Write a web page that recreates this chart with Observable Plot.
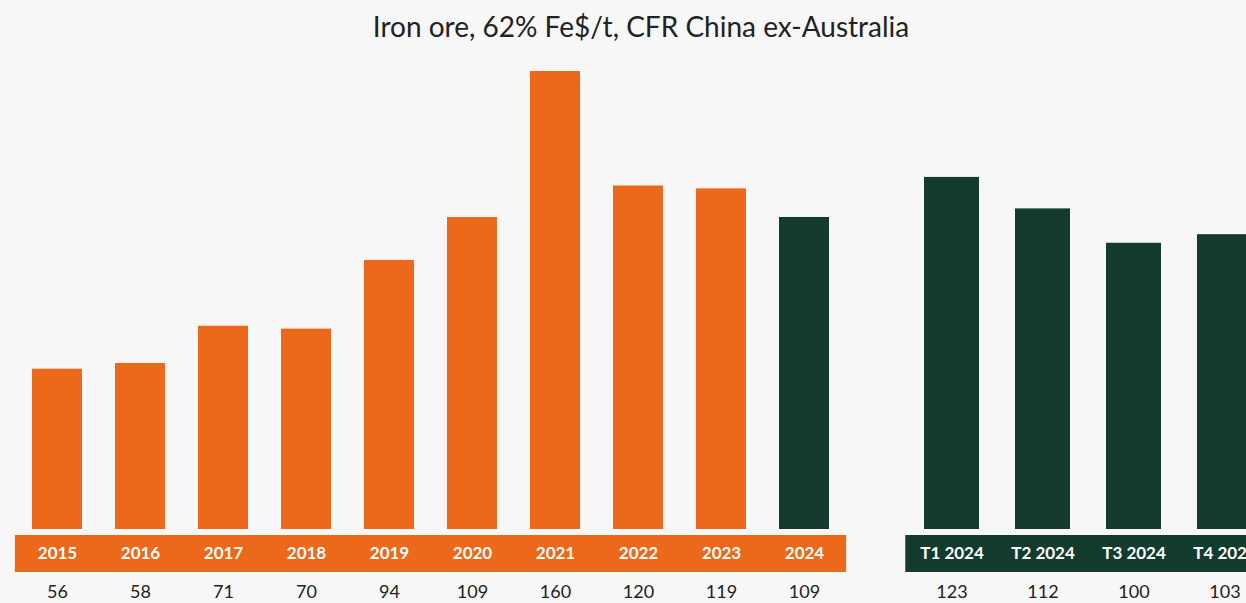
<!DOCTYPE html>
<html><head><meta charset="utf-8">
<script src="https://cdn.jsdelivr.net/npm/d3@7"></script>
<script src="https://cdn.jsdelivr.net/npm/@observablehq/plot@0.6"></script>
<style>
html,body{margin:0;padding:0;background:#f7f7f7;overflow:hidden;}
#title{width:1282px;height:55px;line-height:52px;text-align:center;font-family:Lato,sans-serif;font-size:28px;color:#222;}
#charts{position:relative;width:1246px;height:548px;overflow:hidden;}
#charts svg{position:absolute;top:0;}
</style></head><body>
<div id="title">Iron ore, 62% Fe$/t, CFR China ex-Australia</div>
<div id="charts"></div>
<script>
// ---- data ----
const years = ["2015","2016","2017","2018","2019","2020","2021","2022","2023","2024"];
const yearValues = [56,58,71,70,94,109,160,120,119,109];
const highlightYears = ["2024"];
const quarters = ["T1 2024","T2 2024","T3 2024","T4 2024"];
const quarterValues = [123,112,100,103];

// ---- style / layout ----
const ORANGE = "#ec681b";
const GREEN = "#133c2f";
const H = 548;
const Y_MAX = 160, PX = 458 / Y_MAX;           // px per unit
const Y_MIN = -(H - 16 - 458) / PX;            // room below the baseline
const BAND_TOP = -6 / PX, BAND_BOTTOM = -43 / PX, LABEL_Y = -24 / PX, VALUE_Y = -63 / PX;
const FONT = "Lato, sans-serif";

function makeChart(cats, vals, opts) {
  const data = cats.map((c, i) => ({label: c, value: vals[i]}));
  const pad = 0.4;
  const step = (opts.width - opts.marginLeft - opts.marginRight) / cats.length;
  const gapHalf = step * pad / 2 + 0.5;
  return Plot.plot({
    width: opts.width, height: H,
    marginLeft: opts.marginLeft, marginRight: opts.marginRight,
    marginTop: 16, marginBottom: 0,
    style: {background: "transparent", fontFamily: FONT},
    x: {type: "band", domain: cats, paddingInner: pad, paddingOuter: 0.2, axis: null},
    y: {domain: [Y_MIN, Y_MAX], axis: null},
    marks: [
      Plot.barY(data, {x: "label", y1: 0, y2: "value", fill: opts.barFill}),
      Plot.barY(data, {x: "label", y1: BAND_TOP, y2: BAND_BOTTOM, fill: opts.bandFill,
        insetLeft: -gapHalf, insetRight: -gapHalf}),
      Plot.text(data, {x: "label", y: LABEL_Y, text: "label", fill: "white",
        fontWeight: "bold", fontSize: 17, fontFamily: FONT}),
      Plot.text(data, {x: "label", y: VALUE_Y, text: d => String(d.value), fill: "#222",
        fontSize: 18, fontFamily: FONT})
    ]
  });
}

const c1 = makeChart(years, yearValues, {
  width: 876, marginLeft: 15, marginRight: 30,
  barFill: d => highlightYears.includes(d.label) ? GREEN : ORANGE,
  bandFill: ORANGE
});
c1.style.left = "0px";
const c2 = makeChart(quarters, quarterValues, {
  width: 400, marginLeft: 29.5, marginRight: 6,
  barFill: GREEN, bandFill: GREEN
});
c2.style.left = "876px";
document.getElementById("charts").append(c1, c2);
</script>
</body></html>
